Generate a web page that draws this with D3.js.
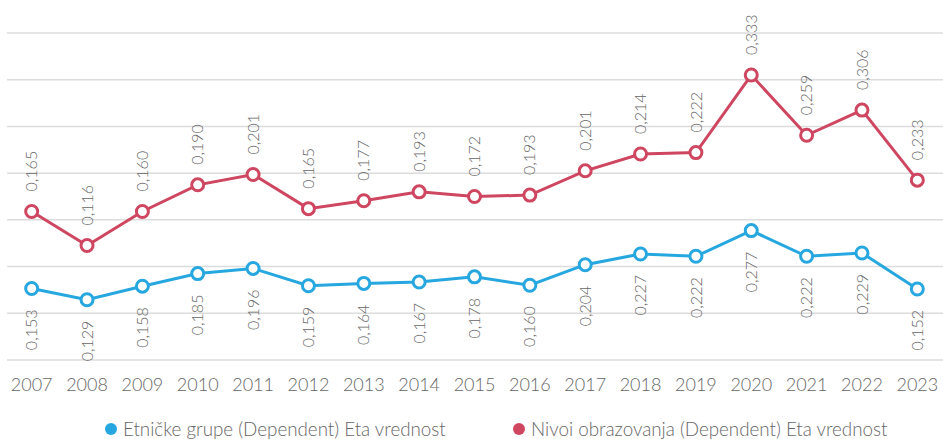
<!DOCTYPE html>
<html>
<head>
<meta charset="utf-8">
<script src="https://cdn.jsdelivr.net/npm/d3@7"></script>
<style>
  html, body { margin: 0; padding: 0; background: #fff; }
  svg { display: block; font-family: Lato, "Open Sans", sans-serif; font-weight: 300; }
</style>
</head>
<body>
<svg id="chart" width="943" height="439"></svg>
<script>
// Years on the x axis
const years = ["2007","2008","2009","2010","2011","2012","2013","2014","2015","2016","2017","2018","2019","2020","2021","2022","2023"];
// Eta values per series
const etnickeGrupe = [0.153,0.129,0.158,0.185,0.196,0.159,0.164,0.167,0.178,0.160,0.204,0.227,0.222,0.277,0.222,0.229,0.152];
const nivoiObrazovanja = [0.165,0.116,0.160,0.190,0.201,0.165,0.177,0.193,0.172,0.193,0.201,0.214,0.222,0.333,0.259,0.306,0.233];
const seriesNames = ["Etničke grupe (Dependent) Eta vrednost", "Nivoi obrazovanja (Dependent) Eta vrednost"];
const seriesColors = ["#27a7df", "#cf4660"];
const yTicks = [0, 0.1, 0.2, 0.3, 0.4, 0.5, 0.6, 0.7];

const svg = d3.select("#chart");
const W = 943;
const textColor = "#666666";
const fontFamily = "Lato, 'Open Sans', sans-serif";

const x = d3.scaleBand().domain(years).range([4, 945]);
const y = d3.scaleLinear().domain([0, 0.7]).range([360, 33]);

// Stack the two series (second series sits on top of the first)
const rows = years.map((yr, i) => ({ year: yr, a: etnickeGrupe[i], b: nivoiObrazovanja[i] }));
const stacked = d3.stack().keys(["a", "b"])(rows);

// Horizontal gridlines
svg.append("g").selectAll("line").data(yTicks).join("line")
  .attr("x1", 7).attr("x2", W)
  .attr("y1", d => y(d)).attr("y2", d => y(d))
  .attr("stroke", "#dcdcdc").attr("stroke-width", 1.5);

// Year labels
const xAxis = d3.axisBottom(x).tickSize(0).tickPadding(0);
const gx = svg.append("g").attr("transform", "translate(0,378)").call(xAxis);
gx.select(".domain").remove();
gx.selectAll("text")
  .attr("dy", "0.71em")
  .attr("font-size", 18)
  .attr("font-weight", 300)
  .attr("fill", textColor)
  .attr("font-family", fontFamily);

const line = d3.line()
  .x(d => x(d.data.year) + x.bandwidth() / 2)
  .y(d => y(d[1]));

const values = [etnickeGrupe, nivoiObrazovanja];

stacked.forEach((layer, si) => {
  const g = svg.append("g");
  g.append("path").datum(layer)
    .attr("d", line)
    .attr("fill", "none")
    .attr("stroke", seriesColors[si])
    .attr("stroke-width", 3);
  g.selectAll("circle").data(layer).join("circle")
    .attr("cx", d => x(d.data.year) + x.bandwidth() / 2)
    .attr("cy", d => y(d[1]))
    .attr("r", 6)
    .attr("fill", "#fff")
    .attr("stroke", seriesColors[si])
    .attr("stroke-width", 3);
  // Rotated value labels: below points for the lower series, above for the upper
  g.selectAll("text").data(layer).join("text")
    .attr("transform", d => {
      const cx = x(d.data.year) + x.bandwidth() / 2;
      const cy = y(d[1]) + (si === 0 ? 21 : -20);
      return `translate(${cx},${cy}) rotate(-90)`;
    })
    .attr("text-anchor", si === 0 ? "end" : "start")
    .attr("dy", "0.35em")
    .attr("font-size", 16)
    .attr("fill", textColor)
    .text((d, i) => d3.format(".3f")(values[si][i]).replace(".", ","));
});

// Legend
const legendX = [111, 519];
const lg = svg.append("g");
seriesNames.forEach((name, i) => {
  lg.append("circle").attr("cx", legendX[i]).attr("cy", 429).attr("r", 6).attr("fill", seriesColors[i]);
  lg.append("text").attr("x", legendX[i] + 12).attr("y", 429).attr("dy", "0.35em")
    .attr("font-size", 18.8).attr("fill", textColor).text(name);
});
</script>
</body>
</html>
